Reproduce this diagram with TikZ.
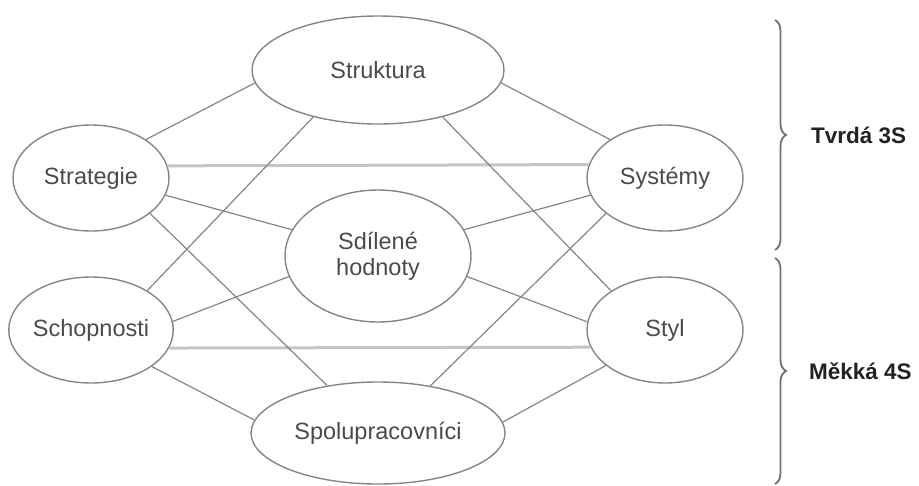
\documentclass[tikz,border=0pt]{standalone}
\usepackage{fontspec}
\setmainfont{Liberation Sans}
\usetikzlibrary{shapes.geometric,decorations.pathreplacing}
\definecolor{ovalgray}{HTML}{858585}
\definecolor{linkgray}{HTML}{858585}
\definecolor{bargray}{HTML}{C4C4C4}
\definecolor{textgray}{HTML}{4A4A4A}
\definecolor{bracegray}{HTML}{707070}
\definecolor{lblgray}{HTML}{222222}
\begin{document}
\begin{tikzpicture}[x=1pt,y=-1pt,
  oval/.style={ellipse, draw=ovalgray, line width=1.4pt, inner sep=0pt, text=textgray,
    font=\fontsize{23.5}{26}\selectfont, align=center},
  side/.style={oval, minimum width=156pt, minimum height=106pt},
  link/.style={draw=linkgray, line width=1.2pt},
  bar/.style={draw=bargray, line width=3pt},
  bracestyle/.style={draw=bracegray, line width=1.8pt, decorate, decoration={brace, amplitude=11pt}},
  lbl/.style={inner sep=0pt, anchor=west, text=lblgray, font=\fontsize{22.5}{26}\selectfont\bfseries}]
\useasboundingbox (0,0) rectangle (919,485);

\node[oval, minimum width=252pt, minimum height=108pt] (str) at (378,70) {Struktura};
\node[side] (strat) at (91,178) {Strategie};
\node[side] (sys) at (665,178) {Systémy};
\node[oval, minimum width=186pt, minimum height=132pt] (sdil) at (378,256) {Sdílené\\hodnoty};
\node[side] (schop) at (91,330) {Schopnosti};
\node[side] (styl) at (665,330) {Styl};
\node[oval, minimum width=254pt, minimum height=102pt] (spol) at (378,433) {Spolupracovníci};

% horizontal bars
\draw[bar] (strat.9.8) -- (sys.170.2);
\draw[bar] (schop.-13) -- (styl.-167);

% links
\draw[link] (strat.35) -- (str.186);
\draw[link] (sys.145) -- (str.-6);
\draw[link] (str.216.4) -- (schop.35.5);
\draw[link] (str.-36.4) -- (styl.144.5);
\draw[link] (strat.-13.3) -- (sdil.163);
\draw[link] (sys.193.3) -- (sdil.17);
\draw[link] (strat.-31.2) -- (spol.137.8);
\draw[link] (sys.211.2) -- (spol.42.2);
\draw[link] (schop.6) -- (sdil.193.5);
\draw[link] (styl.174) -- (sdil.-13.5);
\draw[link] (schop.-31.2) -- (spol.174.9);
\draw[link] (styl.211.2) -- (spol.5.1);

% braces
\coordinate (b1s) at (775,20);
\coordinate (b1e) at (775,250);
\coordinate (b2s) at (775,258);
\coordinate (b2e) at (775,484);
\draw[bracestyle] (b1s) -- (b1e);
\draw[bracestyle] (b2s) -- (b2e);

\node[lbl] (tvrda) at (811,135) {Tvrdá 3S};
\node[lbl] (mekka) at (809,371) {Měkká 4S};
\end{tikzpicture}
\end{document}
